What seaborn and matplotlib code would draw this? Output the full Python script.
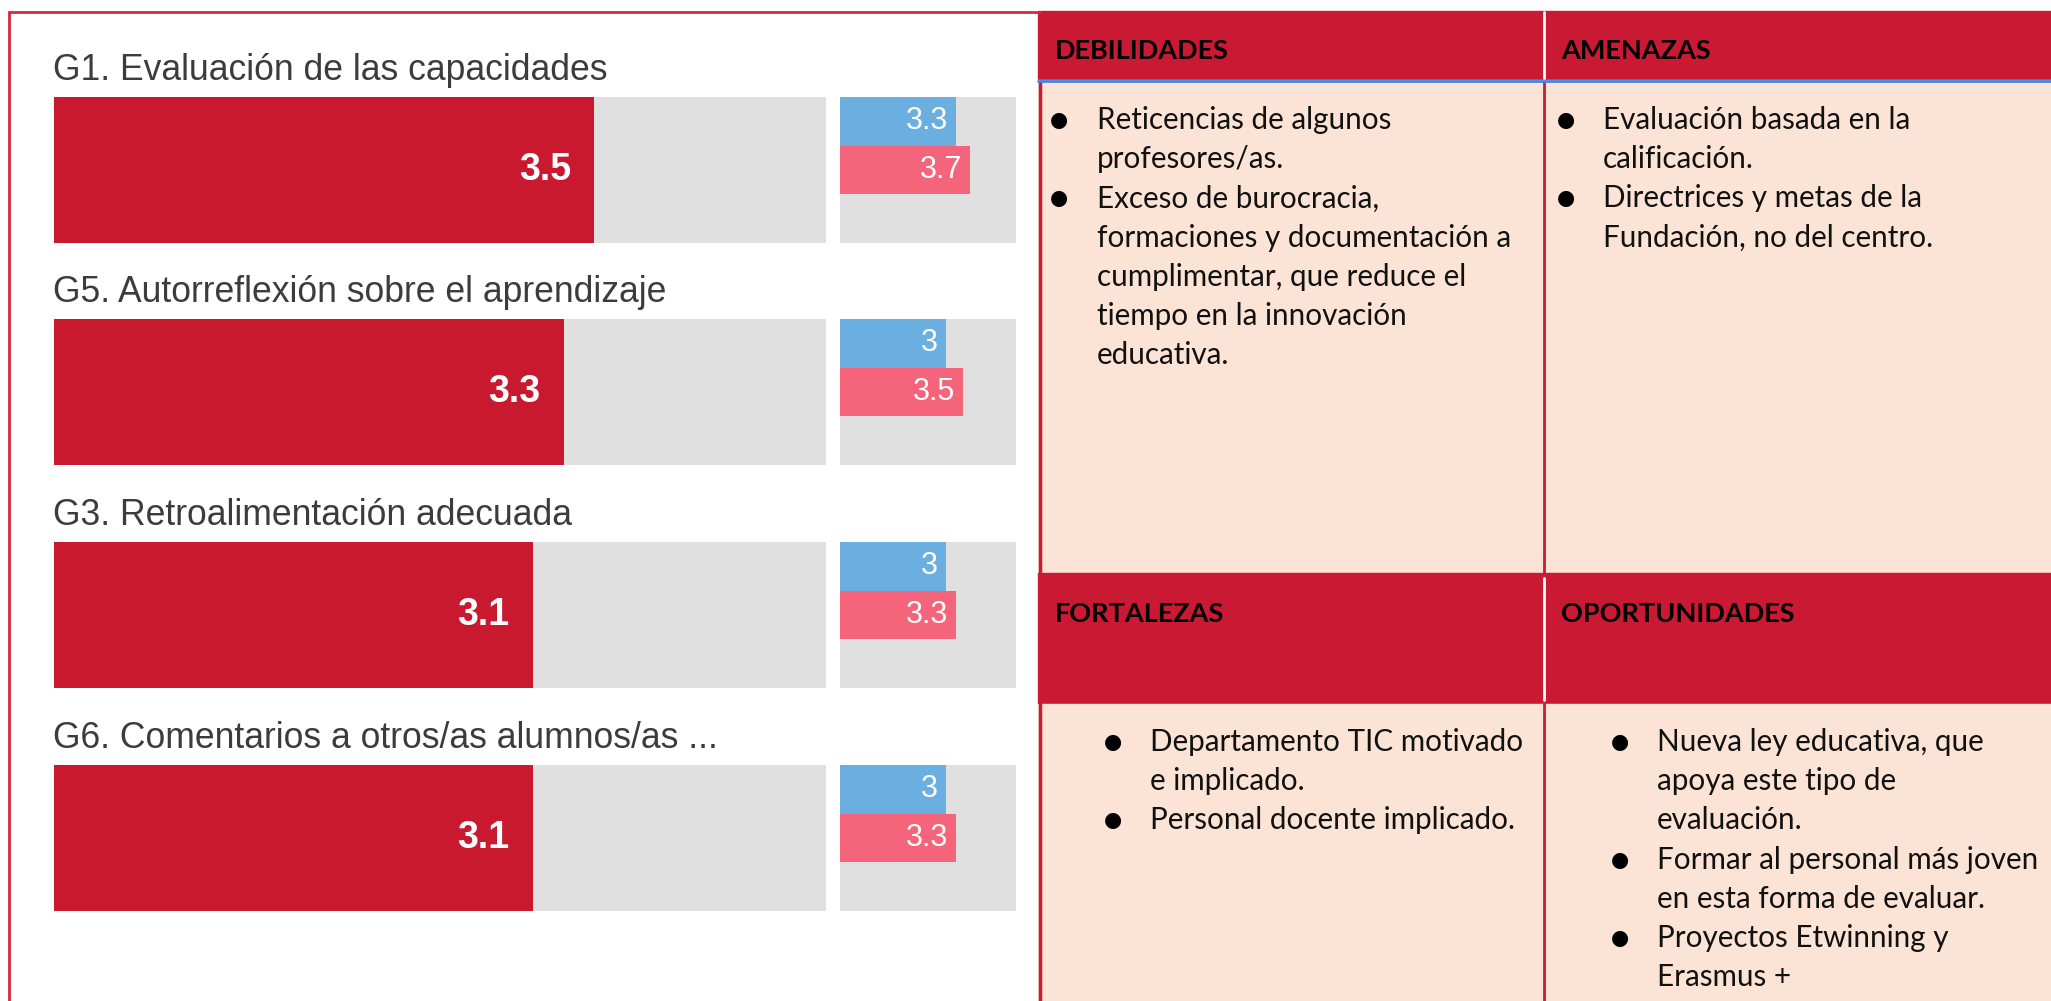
import matplotlib
matplotlib.use("Agg")
import matplotlib.pyplot as plt
import seaborn as sns
import pandas as pd
from matplotlib.patches import Rectangle

# datos del panel de barras
items = [
    "G1. Evaluación de las capacidades",
    "G5. Autorreflexión sobre el aprendizaje",
    "G3. Retroalimentación adecuada",
    "G6. Comentarios a otros/as alumnos/as ...",
]
overall = [3.5, 3.3, 3.1, 3.1]
group_a = [3.3, 3.0, 3.0, 3.0]
group_b = [3.7, 3.5, 3.3, 3.3]
scale_max = 5

# DAFO
debilidades = [
    ["Reticencias de algunos", "profesores/as."],
    ["Exceso de burocracia,", "formaciones y documentación a",
     "cumplimentar, que reduce el", "tiempo en la innovación", "educativa."],
]
amenazas = [
    ["Evaluación basada en la", "calificación."],
    ["Directrices y metas de la", "Fundación, no del centro."],
]
fortalezas = [
    ["Departamento TIC motivado", "e implicado."],
    ["Personal docente implicado."],
]
oportunidades = [
    ["Nueva ley educativa, que", "apoya este tipo de", "evaluación."],
    ["Formar al personal más joven", "en esta forma de evaluar."],
    ["Proyectos Etwinning y", "Erasmus +"],
]

W, H = 2051, 1001
RED = "#c8192e"
TRED = "#ca1a33"
GRAY = "#e0e0e0"
BLUE = "#6aafe0"
PINK = "#f4647a"
PEACH = "#fbe4d5"

sns.set_style("white")
plt.rcParams["font.family"] = ["Liberation Sans", "DejaVu Sans"]

fig = plt.figure(figsize=(W / 100, H / 100), dpi=100)


def px_axes(x, y, w, h):
    return fig.add_axes([x / W, 1 - (y + h) / H, w / W, h / H])


def clean(ax):
    ax.set_facecolor(GRAY)
    for s in ax.spines.values():
        s.set_visible(False)
    ax.set_xticks([])
    ax.set_yticks([])
    ax.set_xlabel("")
    ax.set_ylabel("")


def fmt(v):
    return f"{v:g}"


row_top = [97, 319, 542, 765]
for i, name in enumerate(items):
    top = row_top[i]
    fig.text(53 / W, 1 - (top - 17) / H, name, fontsize=25.6, color="#3c3c3c", va="baseline")

    ax = px_axes(54, top, 772, 146)
    sns.barplot(x=[overall[i]], y=[name], orient="h", color=RED, width=1,
                saturation=1, linewidth=0, ax=ax)
    ax.set_xlim(0, scale_max)
    clean(ax)
    ax.annotate(fmt(overall[i]), xy=(overall[i], 0), xytext=(-23, 0),
                textcoords="offset pixels", ha="right", va="center",
                color="white", fontsize=27, fontweight="bold")

    ax2 = px_axes(840, top, 176, 146)
    df = pd.DataFrame({"grupo": ["A", "B"], "valor": [group_a[i], group_b[i]]})
    sns.barplot(data=df, x="valor", y="grupo", hue="grupo", palette=[BLUE, PINK],
                orient="h", width=1, saturation=1, linewidth=0, legend=False, ax=ax2)
    ax2.set_xlim(0, scale_max)
    ax2.set_ylim(2.5, -0.5)
    clean(ax2)
    for j, v in enumerate(df["valor"]):
        ax2.annotate(fmt(v), xy=(v, j), xytext=(-8, 0), textcoords="offset pixels",
                     ha="right", va="center", color="white", fontsize=22)

# capa superior: marco y tabla DAFO
ov = fig.add_axes([0, 0, 1, 1], zorder=10)
ov.set_xlim(0, W)
ov.set_ylim(H, 0)
ov.axis("off")
ov.patch.set_alpha(0)

ov.plot([9, 9], [12, H], color="#d42a3f", lw=2)
ov.plot([9, 1040], [12, 12], color="#d42a3f", lw=2)

X0, XM, X1 = 1038, 1544, W
ov.add_patch(Rectangle((X0, 11), X1 - X0, 69, color=TRED))
ov.add_patch(Rectangle((X0, 80), X1 - X0, 493, color=PEACH))
ov.add_patch(Rectangle((X0, 573), X1 - X0, 131, color=TRED))
ov.add_patch(Rectangle((X0, 704), X1 - X0, H - 704, color=PEACH))
ov.plot([XM, XM], [12, 78], color="white", lw=2)
ov.plot([XM, XM], [578, 700], color="white", lw=2)
ov.plot([XM, XM], [82, 573], color=TRED, lw=2)
ov.plot([XM, XM], [704, H], color=TRED, lw=2)
ov.plot([X0 + 2, X0 + 2], [82, 573], color=TRED, lw=2.5)
ov.plot([X0 + 2, X0 + 2], [704, H], color=TRED, lw=2.5)
ov.plot([X0, X1], [81, 81], color="#3d85e6", lw=2, zorder=5)

SW = ["Lato", "DejaVu Sans"]
FS = 21.3
headers = [("DEBILIDADES", 1055, 59), ("AMENAZAS", 1561, 59),
           ("FORTALEZAS", 1055, 622), ("OPORTUNIDADES", 1561, 622)]
for txt, x, y in headers:
    ov.text(x, y, txt, family=SW, fontsize=19.5, fontweight="bold", color="black",
            va="baseline")


def bullets(groups, xb, xt, y0, step=39.2):
    y = y0
    for g in groups:
        ov.text(xb, y - 9, "●", family=["DejaVu Sans"], fontsize=15, color="black",
                ha="center", va="center")
        for line in g:
            ov.text(xt, y, line, family=SW, fontsize=FS, color="#111111", va="baseline")
            y += step


bullets(debilidades, 1059, 1097, 129)
bullets(amenazas, 1566, 1603, 129)
bullets(fortalezas, 1113, 1150, 751)
bullets(oportunidades, 1620, 1657, 751)

fig.savefig("out.png", dpi=100)
